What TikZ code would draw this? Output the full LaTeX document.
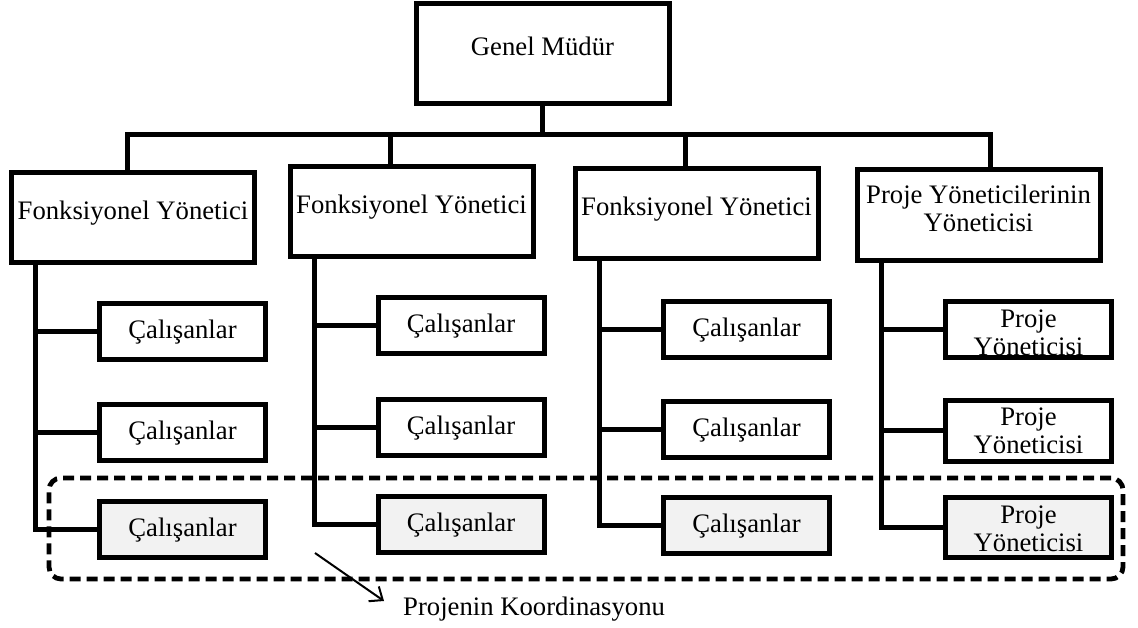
\documentclass[tikz,border=0pt]{standalone}
\usepackage{fontspec}
\setmainfont{Liberation Serif}
\usetikzlibrary{arrows.meta}
% text placed with its baseline shifted from the box centre
\newcommand{\txt}[2]{\raisebox{#1}[0pt][0pt]{#2}}
\newcommand{\twolines}[3]{\raisebox{#1}[0pt][0pt]{\begin{tabular}[b]{@{}c@{}}#2\\#3\end{tabular}}}
\definecolor{shade}{HTML}{F2F2F2}
\begin{document}
\begin{tikzpicture}[x=1pt,y=-1pt,
  unit/.style={draw=black, line width=5pt, rectangle, inner sep=0pt, outer sep=0pt,
               font=\fontsize{26.7}{28}\selectfont},
  head/.style={unit, minimum width=243pt, minimum height=90pt},
  staff/.style={unit, minimum width=166pt, minimum height=56pt},
  coord/.style={fill=shade},
  wire/.style={line width=5pt},
  group/.style={draw, line width=4.8pt, dash pattern=on 11pt off 6pt, rounded corners=12pt,
                inner sep=0pt},
  pointer/.style={line width=2pt, -{Straight Barb[length=11pt,width=18pt]}}
]
\useasboundingbox (0,0) rectangle (1138,627);

% top manager
\node[unit, minimum width=253pt, minimum height=100pt] (gm) at (542.5,53) {\txt{-2.5pt}{Genel Müdür}};

% second level
\node[head] (f1) at (133,217) {\txt{-2.5pt}{Fonksiyonel Yönetici}};
\node[head] (f2) at (411.5,211) {\txt{-2.5pt}{Fonksiyonel Yönetici}};
\node[head] (f3) at (696.5,213) {\txt{-2.5pt}{Fonksiyonel Yönetici}};
\node[head, minimum height=91pt] (pm) at (978.5,214.5) {\twolines{-17pt}{Proje Yöneticilerinin}{Yöneticisi}};

% staff under each manager
\node[staff] (e11) at (182.5,331.5) {\txt{-7pt}{Çalışanlar}};
\node[staff] (e12) at (182.5,432) {\txt{-7pt}{Çalışanlar}};
\node[staff, coord] (e13) at (182.5,529.5) {\txt{-7pt}{Çalışanlar}};

\node[staff] (e21) at (461,325.5) {\txt{-7pt}{Çalışanlar}};
\node[staff] (e22) at (461,427) {\txt{-7pt}{Çalışanlar}};
\node[staff, coord] (e23) at (461,524) {\txt{-7pt}{Çalışanlar}};

\node[staff] (e31) at (746.5,329) {\txt{-7pt}{Çalışanlar}};
\node[staff] (e32) at (746.5,429) {\txt{-7pt}{Çalışanlar}};
\node[staff, coord] (e33) at (746.5,525.5) {\txt{-7pt}{Çalışanlar}};

\node[staff] (p1) at (1028.5,329.5) {\twolines{-26pt}{Proje}{Yöneticisi}};
\node[staff, minimum height=61pt] (p2) at (1028.5,430.5) {\twolines{-23pt}{Proje}{Yöneticisi}};
\node[staff, minimum height=60pt, coord] (p3) at (1028.5,527) {\twolines{-24pt}{Proje}{Yöneticisi}};
% frame over the low text line of the first project manager box
\draw[line width=5pt] (p1.south west) rectangle (p1.north east);

% bus from the top manager
\coordinate (busL) at (127,134);
\coordinate (busR) at (990,134);
\draw[wire] (f1.north -| busL) -- (busL) -- (busR) -- (pm.north -| busR);
\draw[wire] (gm.south) -- (gm.south |- busL);
\draw[wire] ([xshift=-21.5pt]f2.north) -- ([xshift=-21.5pt]f2.north |- busL);
\draw[wire] ([xshift=-11.5pt]f3.north) -- ([xshift=-11.5pt]f3.north |- busL);

% trunks and branches
\foreach \h/\a/\b/\c in {f1/e11/e12/e13, f2/e21/e22/e23, f3/e31/e32/e33, pm/p1/p2/p3} {
  \coordinate (t) at ([xshift=24pt]\h.south west);
  \draw[wire] (t) |- (\c.west);
  \draw[wire] (\a.west) -- (\a.west -| t);
  \draw[wire] (\b.west) -- (\b.west -| t);
}

% project coordination group
\node[group, minimum width=1074pt, minimum height=101pt] (grp) at (586,528.5) {};
\node[anchor=base west, inner sep=0pt, font=\fontsize{26.7}{28}\selectfont] (lbl) at (403,615) {Projenin Koordinasyonu};
\coordinate (ptr) at (315,553);
\coordinate (tip) at (384,601);
\draw[pointer] (ptr) -- (tip);
\end{tikzpicture}
\end{document}
